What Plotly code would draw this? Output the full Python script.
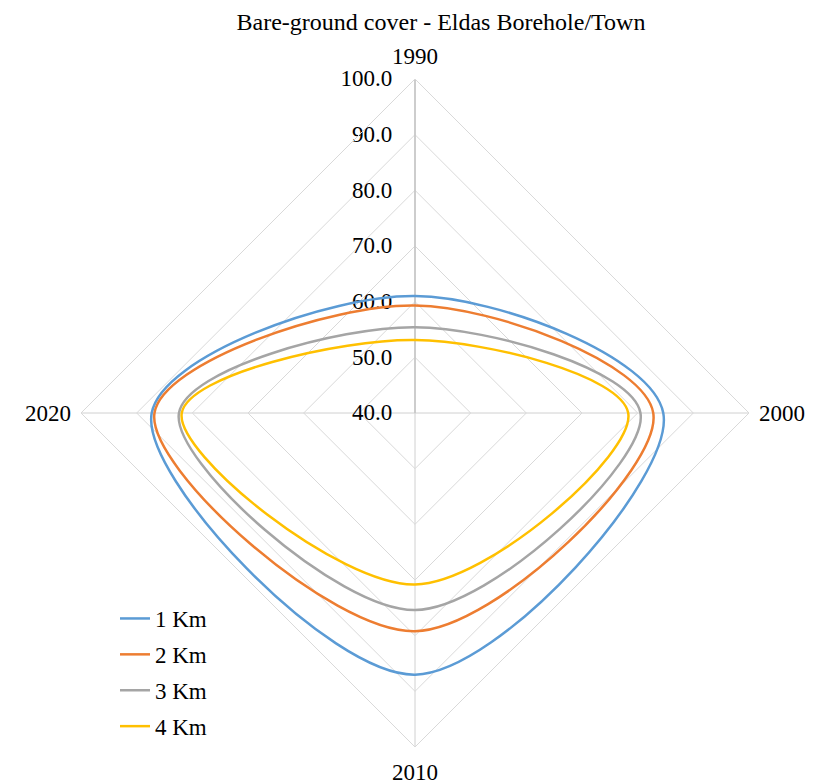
import plotly.graph_objects as go

categories = ["1990", "2000", "2010", "2020"]
series_names = ["1 Km", "2 Km", "3 Km", "4 Km"]
km1 = [61.0, 84.6, 87.0, 87.3]
km2 = [59.3, 82.8, 79.2, 86.8]
km3 = [55.4, 80.5, 75.4, 82.4]
km4 = [53.1, 78.3, 70.8, 81.9]
colors = ["#5B9BD5", "#ED7D31", "#A5A5A5", "#FFC000"]
tick_vals = [40, 50, 60, 70, 80, 90, 100]

font_family = "Liberation Serif, Times New Roman, serif"
FS = 23
W, H = 829, 784
cx, cy, R = 415, 413, 334

fig = go.Figure()

for name, vals, col in zip(series_names, [km1, km2, km3, km4], colors):
    # tiny offset on the closing point keeps the path "open" so the spline
    # has a corner at the first category, like the original chart
    fig.add_trace(go.Scatterpolar(
        r=vals + [vals[0] + 1e-6],
        theta=categories + [categories[0]],
        mode="lines",
        name=name,
        legendgroup=name,
        line=dict(color=col, width=2.5, shape="spline", smoothing=1.0),
    ))

fig.update_layout(
    width=W, height=H,
    margin=dict(l=0, r=0, t=0, b=0),
    paper_bgcolor="white",
    plot_bgcolor="white",
    font=dict(family=font_family, size=FS, color="black"),
    title=dict(text="Bare-ground cover - Eldas Borehole/Town", x=441 / W, xanchor="center",
               y=1 - 22 / H, yanchor="middle", font=dict(size=24, family=font_family)),
    polar=dict(
        domain=dict(x=[(cx - R) / W, (cx + R) / W], y=[(H - cy - R) / H, (H - cy + R) / H]),
        bgcolor="white",
        gridshape="linear",
        radialaxis=dict(
            range=[40, 100], tickvals=tick_vals, tickformat=".1f",
            angle=90, tickangle=90, side="counterclockwise",
            showline=True, linecolor="#c4c4c4", linewidth=1.5,
            gridcolor="#d9d9d9", gridwidth=1,
            ticks="outside", ticklen=14, tickcolor="rgba(0,0,0,0)",
            tickfont=dict(size=FS, family=font_family, color="black"),
            layer="below traces",
        ),
        angularaxis=dict(
            categoryarray=categories, type="category",
            rotation=90, direction="clockwise",
            showline=True, linecolor="#d9d9d9", linewidth=1,
            gridcolor="#d0d0d0", gridwidth=1.2,
            ticks="outside", ticklen=5, tickcolor="rgba(0,0,0,0)",
            tickfont=dict(size=FS, family=font_family),
        ),
    ),
    legend=dict(x=115 / W, y=1 - 597 / H, xanchor="left", yanchor="top",
                font=dict(size=FS, family=font_family), tracegroupgap=3,
                bgcolor="rgba(0,0,0,0)"),
    showlegend=True,
)

fig.write_html("out.html")
